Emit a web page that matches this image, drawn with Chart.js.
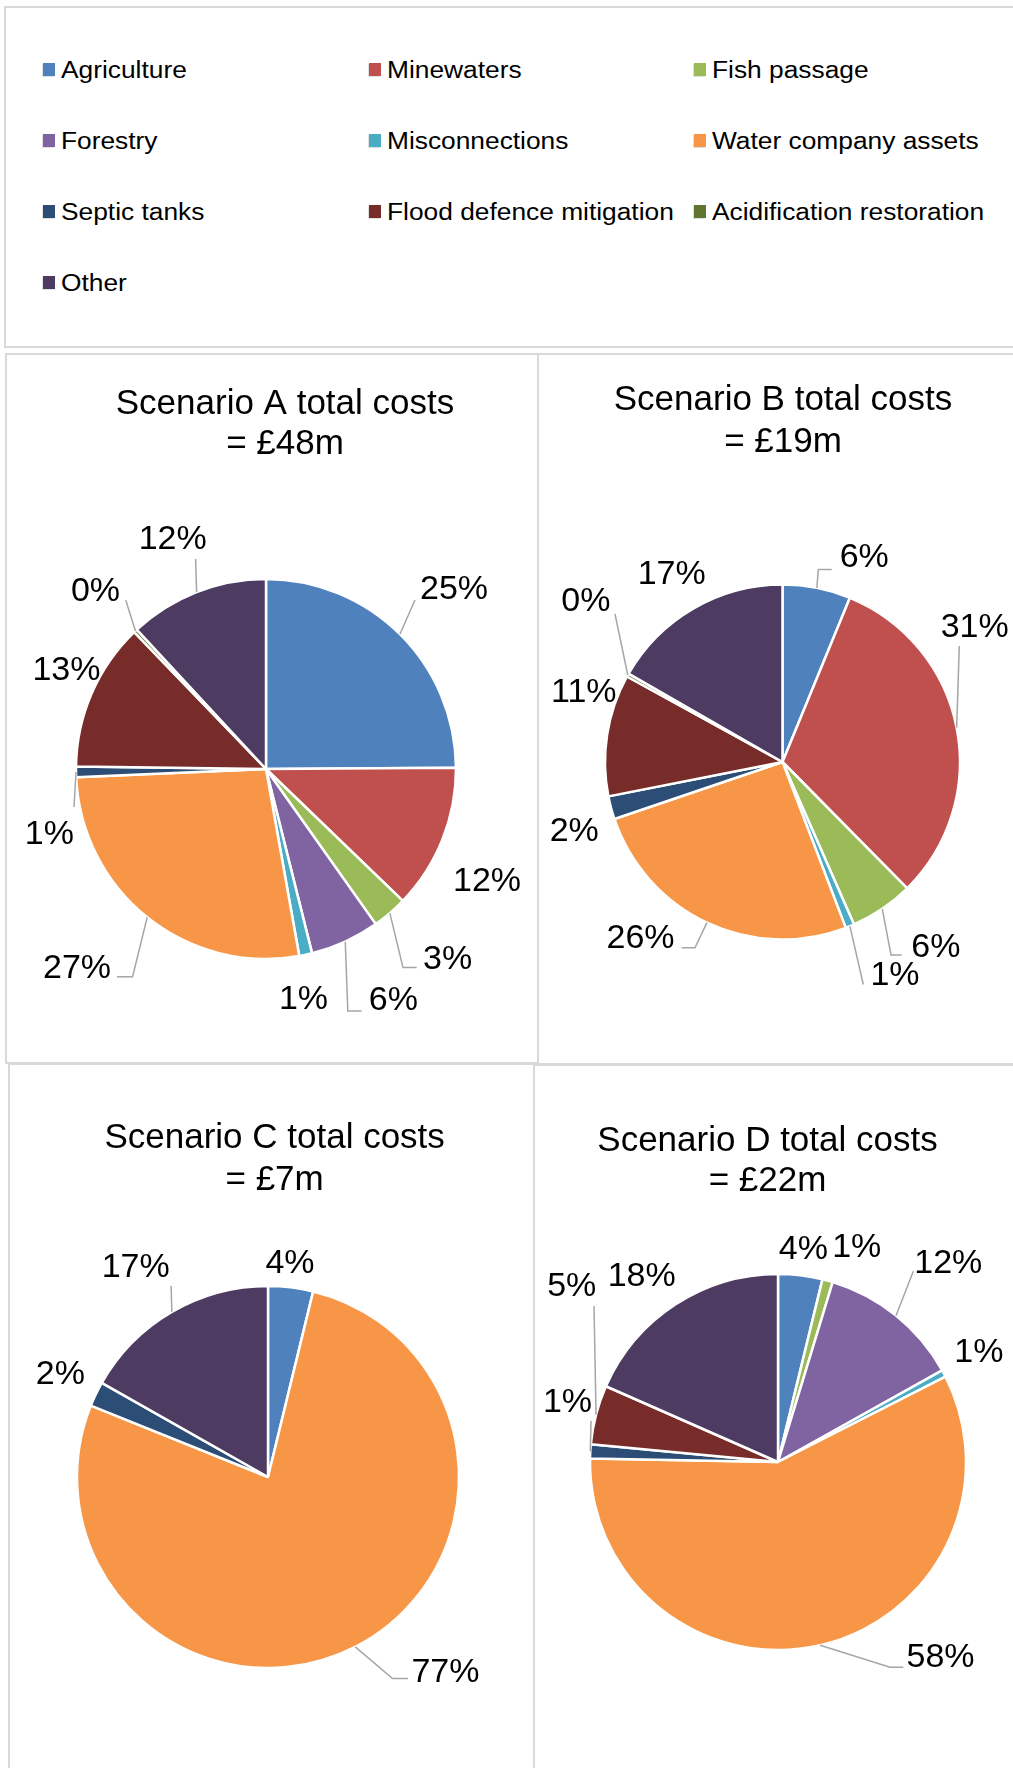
<!DOCTYPE html>
<html><head><meta charset="utf-8">
<script src="https://cdn.jsdelivr.net/npm/chart.js@4.4.1/dist/chart.umd.min.js"></script>
<style>
html,body{margin:0;padding:0;background:#fff;}
body{width:1013px;height:1768px;position:relative;overflow:hidden;font-family:"Liberation Sans",Arial,sans-serif;}
.box{position:absolute;border:2px solid #d9d9d9;box-sizing:border-box;}
canvas{position:absolute;}
.lg{position:absolute;height:24px;line-height:24px;font-size:23.5px;color:#000;white-space:nowrap;transform-origin:0 50%;transform:scaleX(1.12);}
.mk{position:absolute;width:12px;height:13px;}
</style></head><body>
<div class="box" style="left:4px;top:6px;width:1100px;height:342px"></div>
<div class="box" style="left:5px;top:353px;width:534px;height:711px"></div>
<div class="box" style="left:537px;top:353px;width:600px;height:712px"></div>
<div class="box" style="left:8px;top:1063px;width:527px;height:800px"></div>
<div class="box" style="left:533px;top:1064px;width:600px;height:800px"></div>
<div id="legend"></div>
<canvas id="cA" width="531" height="707" style="left:6px;top:355px"></canvas>
<canvas id="cB" width="474" height="708" style="left:539px;top:355px"></canvas>
<canvas id="cC" width="523" height="703" style="left:10px;top:1065px"></canvas>
<canvas id="cD" width="478" height="702" style="left:535px;top:1066px"></canvas>
<script>
// ---- data ----
const categories = ["Agriculture","Minewaters","Fish passage","Forestry","Misconnections","Water company assets","Septic tanks","Flood defence mitigation","Acidification restoration","Other"];
const scenarioA = [24.9, 12.3, 3.0, 5.9, 1.1, 27.1, 0.9, 12.6, 0.3, 11.9];
const scenarioB = [6.2, 31.4, 5.8, 0, 0.8, 25.6, 2.1, 11.1, 0.3, 16.7];
const scenarioC = [3.8, 0, 0, 0, 0, 77.3, 2.1, 0, 0, 16.8];
const scenarioD = [3.8, 0, 0.9, 12.2, 0.6, 57.8, 1.2, 5.1, 0, 18.4];
const titleA = ["Scenario A total costs", "= £48m"];
const titleB = ["Scenario B total costs", "= £19m"];
const titleC = ["Scenario C total costs", "= £7m"];
const titleD = ["Scenario D total costs", "= £22m"];

// ---- styles ----
const colors = ["#4F81BD","#C0504D","#9BBB59","#8064A2","#4BACC6","#F79646","#2C4D75","#772C2A","#5F7530","#4D3B62"];
const FONT = '"Liberation Sans", Arial, sans-serif';

// legend (3 columns)
const legendCols = [43, 369, 694];
const legendRows = [69.5, 140.5, 211.5, 282];
const lg = document.getElementById('legend');
categories.forEach((c, i) => {
  const col = i % 3, row = Math.floor(i / 3);
  const mx = legendCols[col], cy = legendRows[row];
  const mk = document.createElement('div');
  mk.className = 'mk';
  mk.style.left = mx + 'px'; mk.style.top = (cy - 6.5) + 'px';
  mk.style.background = colors[i];
  mk.style.boxShadow = '-1px 1px 0 rgba(0,0,0,0.12)';
  lg.appendChild(mk);
  const t = document.createElement('div');
  t.className = 'lg';
  t.textContent = c;
  t.style.left = (mx + 17.5) + 'px'; t.style.top = (cy - 11.5) + 'px';
  lg.appendChild(t);
});

// label layouts (relative to pie centre)
const labelsA = {
  0:{x:188,y:-181.5,lead:[[149,-169]]},
  1:{x:221,y:110},
  2:{x:181.6,y:188,lead:[[137,198.5],[150.7,198.5]]},
  3:{x:127.4,y:229.5,lead:[[81.8,242],[95.6,242]]},
  4:{x:37.5,y:228.5},
  5:{x:-189,y:197,lead:[[-133.4,207.7],[-149,207.7]]},
  6:{x:-216.6,y:63,lead:[[-192,38]]},
  7:{x:-199.6,y:-101},
  8:{x:-170.5,y:-179.7,lead:[[-140.3,-169]]},
  9:{x:-93.3,y:-232.3,lead:[[-70.4,-210]]}
};
const labelsB = {
  0:{x:81.7,y:-206.6,lead:[[35.8,-192.5],[49.2,-192.5]]},
  1:{x:192.2,y:-137,lead:[[176.8,-116]]},
  2:{x:153.3,y:183.3,lead:[[108.5,193],[119.2,193]]},
  4:{x:112.5,y:210.8,lead:[[80.8,222.5]]},
  5:{x:-142,y:174.6,lead:[[-87.5,185.8],[-100.8,185.8]]},
  6:{x:-208.3,y:66.7},
  7:{x:-198.7,y:-72.2},
  8:{x:-196.7,y:-163,lead:[[-167.5,-148]]},
  9:{x:-110.8,y:-190}
};
const labelsC = {
  0:{x:22,y:-215.7},
  5:{x:177.4,y:193,lead:[[124.6,201.5],[140,201.5]]},
  6:{x:-207.7,y:-105},
  9:{x:-132.3,y:-211.5,lead:[[-96.9,-191.3]]}
};
const labelsD = {
  0:{x:25.3,y:-214.7},
  2:{x:78.7,y:-217},
  3:{x:170.3,y:-200.7,lead:[[135.3,-190.7]]},
  4:{x:200.8,y:-112.3},
  5:{x:162.5,y:193.5,lead:[[112,205.2],[125.3,205.2]]},
  6:{x:-210.5,y:-62.3,lead:[[-187,-41]]},
  7:{x:-206.3,y:-177.5,lead:[[-184,-156]]},
  9:{x:-136.3,y:-188}
};

const panels = [
  {id:'cA', data:scenarioA, title:titleA, org:[6,355], center:[266,769], r:190, tx:285, ty:[404.7,444], labels:labelsA},
  {id:'cB', data:scenarioB, title:titleB, org:[539,355], center:[782.5,762], r:177.5, tx:783, ty:[400,442], labels:labelsB},
  {id:'cC', data:scenarioC, title:titleC, org:[10,1065], center:[268,1477], r:191, tx:274.6, ty:[1138.6,1180.5], labels:labelsC},
  {id:'cD', data:scenarioD, title:titleD, org:[535,1066], center:[778,1462], r:188, tx:767.5, ty:[1141.5,1181.5], labels:labelsD}
];
const labelShiftY = 2.5;

const titlePlugin = {
  id: 'panelTitle',
  afterDraw(chart, args, o) {
    const ctx = chart.ctx; ctx.save();
    ctx.font = o.font; ctx.fillStyle = '#000'; ctx.textAlign = 'center'; ctx.textBaseline = 'middle';
    o.lines.forEach((t, i) => ctx.fillText(t, o.x, o.ys[i]));
    ctx.restore();
  }
};
const labelPlugin = {
  id: 'pctLabels',
  afterDatasetsDraw(chart, args, o) {
    const ctx = chart.ctx;
    const meta = chart.getDatasetMeta(0);
    const data = chart.data.datasets[0].data;
    const total = data.reduce((a, b) => a + b, 0);
    ctx.save();
    ctx.font = o.font; ctx.fillStyle = '#000'; ctx.textAlign = 'center'; ctx.textBaseline = 'middle';
    meta.data.forEach((arc, i) => {
      const v = data[i], spec = o.layout[i];
      if (!v || !spec) return;
      const p = arc.getProps(['x','y','startAngle','endAngle','outerRadius'], true);
      const mid = (p.startAngle + p.endAngle) / 2;
      const ax = p.x + Math.cos(mid) * p.outerRadius, ay = p.y + Math.sin(mid) * p.outerRadius;
      if (spec.lead) {
        ctx.beginPath(); ctx.moveTo(ax, ay);
        spec.lead.forEach(q => ctx.lineTo(p.x + q[0], p.y + q[1]));
        ctx.strokeStyle = '#a6a6a6'; ctx.lineWidth = 1.5; ctx.stroke();
      }
      ctx.fillText(Math.round(v / total * 100) + '%', p.x + spec.x, p.y + spec.y + o.shift);
    });
    ctx.restore();
  }
};

panels.forEach(pn => {
  const cv = document.getElementById(pn.id);
  const W = cv.width, H = cv.height;
  const cx = pn.center[0] - pn.org[0], cy = pn.center[1] - pn.org[1];
  const m = pn.r + 4;
  new Chart(cv, {
    type: 'pie',
    data: { labels: categories, datasets: [{ data: pn.data, backgroundColor: colors, borderColor: '#ffffff', borderWidth: 2.5 }] },
    options: {
      responsive: false, animation: false, devicePixelRatio: 1,
      radius: pn.r,
      layout: { padding: { left: cx - m, right: W - cx - m, top: cy - m, bottom: H - cy - m } },
      events: [],
      plugins: {
        legend: { display: false }, tooltip: { enabled: false }, title: { display: false },
        panelTitle: { font: '35px ' + FONT, lines: pn.title, x: pn.tx - pn.org[0], ys: pn.ty.map(y => y - pn.org[1]) },
        pctLabels: { font: '34px ' + FONT, layout: pn.labels, shift: labelShiftY }
      }
    },
    plugins: [titlePlugin, labelPlugin]
  });
});
</script>
</body></html>
